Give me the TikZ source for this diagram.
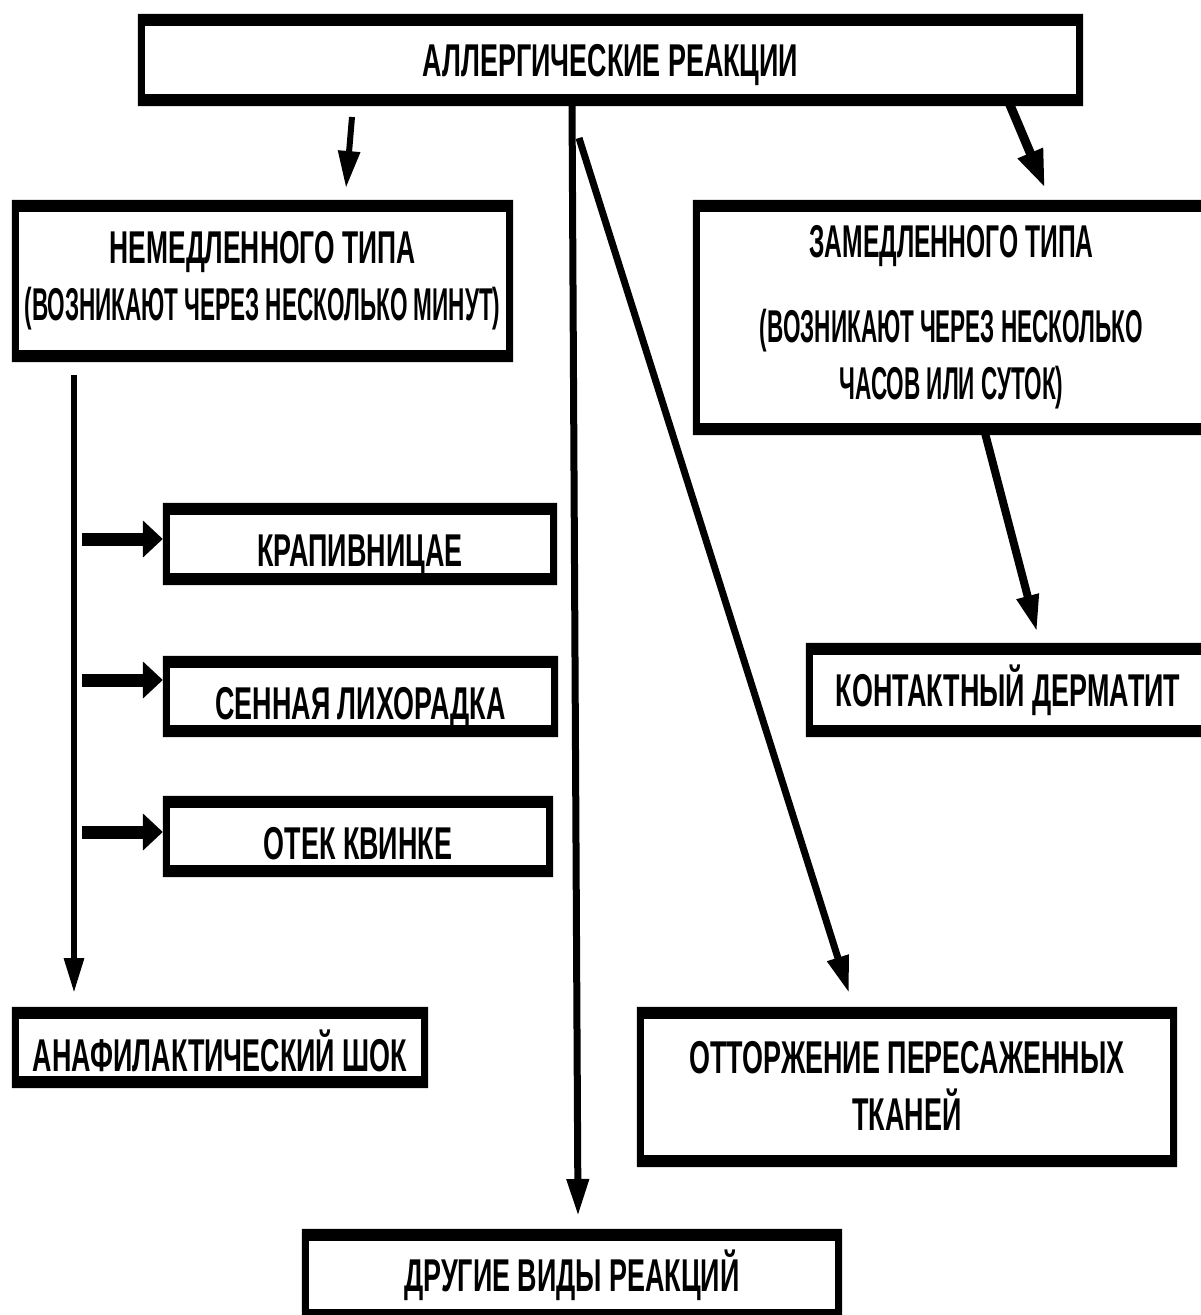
\documentclass[tikz,border=0pt]{standalone}
\usepackage{fontspec}
\newfontfamily\cf[FakeStretch=0.585]{Liberation Sans}
\newfontfamily\cfa[FakeStretch=0.574]{Liberation Sans}
\newfontfamily\cfm[FakeStretch=0.536]{Liberation Sans}
\newfontfamily\cfs[FakeStretch=0.49]{Liberation Sans}
\usetikzlibrary{arrows.meta,calc}
\newcommand\frameit[1]{\fill[black,even odd rule]
  ($(#1.north west)+(-3.5,-6)$) rectangle ($(#1.south east)+(3.5,6)$)
  ($(#1.north west)+(3.5,6)$) rectangle ($(#1.south east)+(-3.5,-6)$);}
\newcommand\lowered[2][7pt]{\raisebox{-#1}{#2}}
\begin{document}
\begin{tikzpicture}[x=1pt,y=-1pt,
  box/.style={draw=none,inner sep=0pt,align=center,
    font=\cf\bfseries\fontsize{46}{57}\selectfont},
  one/.style={text height=33pt+#1,text depth=0pt},
  one/.default=0pt,
  ln/.style={line width=7pt,-{Triangle[length=37pt,width=21pt]}},
  hln/.style={line width=13pt,-{Triangle[length=20pt,width=36pt]},shorten >=3.5pt}]
\useasboundingbox[fill=white] (0,0) rectangle (1200,1315);

\node[box,one,minimum width=938pt,minimum height=80pt] (top) at (610.5,60) {АЛЛЕРГИЧЕСКИЕ РЕАКЦИИ};
\node[box,minimum width=494pt,minimum height=150pt] (imm) at (262.5,281) {{\cfa НЕМЕДЛЕННОГО ТИПА}\\{\cfs (ВОЗНИКАЮТ ЧЕРЕЗ НЕСКОЛЬКО МИНУТ)}};
\node[box,minimum width=510pt,minimum height=223pt] (del) at (951.5,317.5) {\lowered{\cfm ЗАМЕДЛЕННОГО ТИПА}\\[28pt]\lowered{\cfs (ВОЗНИКАЮТ ЧЕРЕЗ НЕСКОЛЬКО}\\\lowered{\cfs ЧАСОВ ИЛИ СУТОК)}};
\node[box,one=12pt,minimum width=387pt,minimum height=70pt] (krap) at (360,544) {КРАПИВНИЦАЕ};
\node[box,one=12pt,minimum width=388pt,minimum height=69pt] (senn) at (360.5,696.5) {СЕННАЯ ЛИХОРАДКА};
\node[box,one=12pt,minimum width=383pt,minimum height=69pt] (otek) at (358,836.5) {ОТЕК КВИНКЕ};
\node[box,one=14pt,minimum width=409pt,minimum height=69pt] (anaph) at (220,1047.5) {АНАФИЛАКТИЧЕСКИЙ ШОК};
\node[box,one,minimum width=397pt,minimum height=82pt] (cont) at (1008,690) {КОНТАКТНЫЙ ДЕРМАТИТ};
\node[box,minimum width=533pt,minimum height=148pt] (trans) at (907,1087) {\lowered[-3pt]{ОТТОРЖЕНИЕ ПЕРЕСАЖЕННЫХ}\\\lowered[-3pt]{ТКАНЕЙ}};
\node[box,one,minimum width=533pt,minimum height=80pt] (other) at (572,1275) {ДРУГИЕ ВИДЫ РЕАКЦИЙ};

\foreach \n in {top,imm,del,krap,senn,otek,anaph,cont,trans,other}{\frameit{\n}}

\coordinate (t1) at (352,117); \coordinate (h1) at (346,188);
\coordinate (t2) at (1008,0);  \coordinate (h2) at (1045,188);
\coordinate (v0) at (572,0);   \coordinate (v1) at (578,1216);
\coordinate (d0) at (579,138); \coordinate (d1) at (849,993);
\coordinate (c0) at (984,0);   \coordinate (c1) at (1037,632);
\coordinate (l0) at (74,375);  \coordinate (l1) at (74,993);
\coordinate (k0) at (82,539);  \coordinate (k1) at (82,680); \coordinate (k2) at (82,832);

\draw[ln,line width=6pt] (t1) -- (h1);
\draw[ln,line width=9pt,-{Triangle[length=38pt,width=25pt]}] (top.south -| t2) -- (h2);
\draw[ln] (top.south -| v0) -- (v1);
\draw[ln] (d0) -- (d1);
\draw[ln,line width=8pt] (del.south -| c0) -- (c1);
\draw[ln,line width=6pt,-{Triangle[length=35pt,width=19pt]}] (l0) -- (l1);
\draw[hln] (k0) -- (k0 -| krap.west);
\draw[hln] (k1) -- (k1 -| senn.west);
\draw[hln] (k2) -- (k2 -| otek.west);
\end{tikzpicture}
\end{document}
